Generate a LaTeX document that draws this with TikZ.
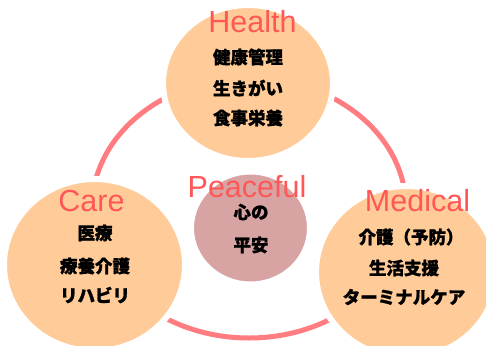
\documentclass[tikz,border=0pt]{standalone}
\usepackage{fontspec}
\setmainfont{Liberation Sans}
\newfontfamily\jpfont{Noto Sans CJK JP}[BoldFeatures={FakeBold=1.2}]
\usepackage{xcolor}
\usetikzlibrary{shapes.geometric}

\definecolor{peach}{HTML}{FFCC99}
\definecolor{rose}{HTML}{D8A3A3}
\definecolor{ringpink}{HTML}{FF7C80}
\definecolor{titlered}{HTML}{FF5757}

\tikzset{
  bubble/.style={ellipse, fill=peach, draw=white, line width=6pt, inner sep=0pt},
  title/.style={anchor=base, inner sep=0pt, text=titlered, font=\fontsize{30.5}{30}\selectfont},
  jtext/.style={inner sep=0pt, font=\jpfont\bfseries\fontsize{17.5}{20}\selectfont},
}

\begin{document}
\begin{tikzpicture}[x=1pt,y=-1pt]
  \useasboundingbox (0,0) rectangle (486,345);
  \clip (0,0) rectangle (486,345);

  % Ring behind the circles
  \coordinate (M) at (249,208); % middle of the ring
  \draw[ringpink,line width=5pt] (M) ellipse [x radius=157, y radius=130];

  % The four circles
  \node[bubble, minimum width=170pt, minimum height=156pt] (health) at (248,83) {};
  \node[bubble, minimum width=181pt, minimum height=172pt] (care) at (94.5,265) {};
  \node[bubble, minimum width=181pt, minimum height=172pt] (medical) at (406.5,272) {};
  \node[bubble, fill=rose, minimum width=119pt, minimum height=113pt] (peace) at (250.5,228) {};

  % Titles
  \node[title] (tHealth) at (252.5,33) {Health};
  \node[title] (tCare) at (91.5,211.7) {Care};
  \node[title] (tPeace) at (247,197.7) {Peaceful};
  \node[title] (tMedical) at (417.5,211.7) {Medical};

  % Texts inside
  \node[jtext] (h1) at (248,57) {健康管理};
  \node[jtext] (h2) at (248,88) {生きがい};
  \node[jtext] (h3) at (248,118) {食事栄養};

  \node[jtext] (c1) at (95,233) {医療};
  \node[jtext] (c2) at (95,266) {療養介護};
  \node[jtext] (c3) at (95,295) {リハビリ};

  \node[jtext] (p1) at (251,212) {心の};
  \node[jtext] (p2) at (251,245) {平安};

  \node[jtext] (m1) at (411,237) {介護（予防）};
  \node[jtext] (m2) at (404,268) {生活支援};
  \node[jtext] (m3) at (404,297) {ターミナルケア};

\end{tikzpicture}
\end{document}
